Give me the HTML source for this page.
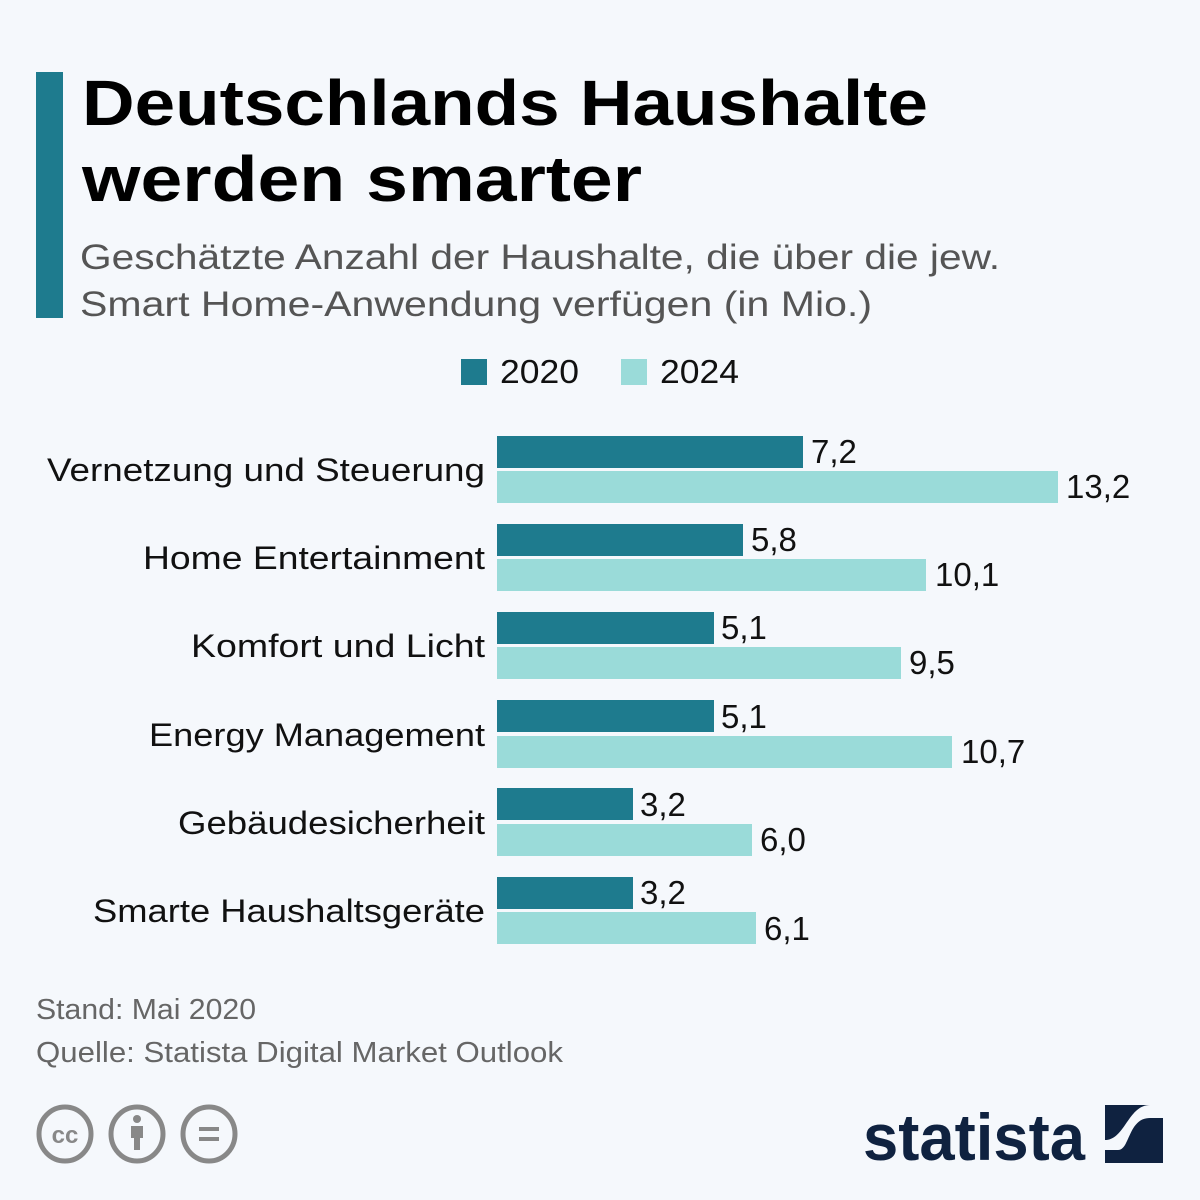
<!DOCTYPE html>
<html><head><meta charset="utf-8"><style>
html,body{margin:0;padding:0;background:#f5f8fc;}
svg{display:block;font-family:"Liberation Sans",sans-serif;}
</style></head><body>
<svg width="1200" height="1200" viewBox="0 0 1200 1200">
<rect width="1200" height="1200" fill="#f5f8fc"/>
<rect x="36" y="72" width="27" height="246" fill="#1e7b8e"/>
<text x="82" y="125" font-size="64" font-weight="bold" fill="#000" textLength="846" lengthAdjust="spacingAndGlyphs">Deutschlands Haushalte</text>
<text x="82" y="201" font-size="64" font-weight="bold" fill="#000" textLength="560" lengthAdjust="spacingAndGlyphs">werden smarter</text>
<text x="80" y="269" font-size="35" fill="#555" textLength="920" lengthAdjust="spacingAndGlyphs">Geschätzte Anzahl der Haushalte, die über die jew.</text>
<text x="80" y="316" font-size="35" fill="#555" textLength="792" lengthAdjust="spacingAndGlyphs">Smart Home-Anwendung verfügen (in Mio.)</text>
<rect x="461" y="359" width="26" height="26" fill="#1e7b8e"/>
<text x="500" y="383" font-size="33" fill="#111" textLength="79" lengthAdjust="spacingAndGlyphs">2020</text>
<rect x="621" y="359" width="26" height="26" fill="#9adbd9"/>
<text x="660" y="383" font-size="33" fill="#111" textLength="79" lengthAdjust="spacingAndGlyphs">2024</text>
<g font-size="32" fill="#111">
<text x="485" y="481" text-anchor="end" textLength="438" lengthAdjust="spacingAndGlyphs">Vernetzung und Steuerung</text>
<text x="485" y="569" text-anchor="end" textLength="342" lengthAdjust="spacingAndGlyphs">Home Entertainment</text>
<text x="485" y="657" text-anchor="end" textLength="294" lengthAdjust="spacingAndGlyphs">Komfort und Licht</text>
<text x="485" y="746" text-anchor="end" textLength="336" lengthAdjust="spacingAndGlyphs">Energy Management</text>
<text x="485" y="834" text-anchor="end" textLength="307" lengthAdjust="spacingAndGlyphs">Gebäudesicherheit</text>
<text x="485" y="922" text-anchor="end" textLength="392" lengthAdjust="spacingAndGlyphs">Smarte Haushaltsgeräte</text>
</g>
<g>
<rect x="497" y="436" width="306" height="32" fill="#1e7b8e"/>
<rect x="497" y="471" width="561" height="32" fill="#9adbd9"/>
<rect x="497" y="524" width="246" height="32" fill="#1e7b8e"/>
<rect x="497" y="559" width="429" height="32" fill="#9adbd9"/>
<rect x="497" y="612" width="217" height="32" fill="#1e7b8e"/>
<rect x="497" y="647" width="404" height="32" fill="#9adbd9"/>
<rect x="497" y="700" width="217" height="32" fill="#1e7b8e"/>
<rect x="497" y="736" width="455" height="32" fill="#9adbd9"/>
<rect x="497" y="788" width="136" height="32" fill="#1e7b8e"/>
<rect x="497" y="824" width="255" height="32" fill="#9adbd9"/>
<rect x="497" y="877" width="136" height="32" fill="#1e7b8e"/>
<rect x="497" y="912" width="259" height="32" fill="#9adbd9"/>
</g>
<g font-size="33" fill="#111">
<text x="811" y="463">7,2</text><text x="1066" y="498">13,2</text>
<text x="751" y="551">5,8</text><text x="935" y="586">10,1</text>
<text x="721" y="639">5,1</text><text x="909" y="674">9,5</text>
<text x="721" y="728">5,1</text><text x="961" y="763">10,7</text>
<text x="640" y="816">3,2</text><text x="760" y="851">6,0</text>
<text x="640" y="904">3,2</text><text x="764" y="940">6,1</text>
</g>
<text x="36" y="1019" font-size="29" fill="#666" textLength="220" lengthAdjust="spacingAndGlyphs">Stand: Mai 2020</text>
<text x="36" y="1062" font-size="29" fill="#666" textLength="527" lengthAdjust="spacingAndGlyphs">Quelle: Statista Digital Market Outlook</text>
<g fill="none" stroke="#888" stroke-width="5">
<ellipse cx="65" cy="1134" rx="26" ry="27"/>
<ellipse cx="137" cy="1134" rx="26" ry="27"/>
<ellipse cx="209" cy="1134" rx="26" ry="27"/>
</g>
<text x="65" y="1143" font-size="24" font-weight="bold" fill="#888" text-anchor="middle">cc</text>
<circle cx="137" cy="1119" r="4" fill="#888"/>
<rect x="131" y="1126" width="12" height="12" fill="#888"/>
<rect x="134" y="1136" width="6" height="14" fill="#888"/>
<rect x="199" y="1127" width="20" height="4" fill="#888"/>
<rect x="199" y="1137" width="20" height="4" fill="#888"/>
<text x="863" y="1160" font-size="66" font-weight="bold" fill="#0f2240" textLength="222" lengthAdjust="spacingAndGlyphs">statista</text>
<rect x="1105" y="1105" width="58" height="58" fill="#0f2240"/>
<path d="M1105 1150 L1118 1150 C1130 1150 1128 1118 1150 1118 L1163 1118 L1163 1105 L1105 1105 Z M1105 1163 L1105 1150" fill="#f5f8fc"/>
<path d="M1105 1105 L1150 1105 C1128 1105 1125 1140 1105 1140 Z" fill="#0f2240"/>
</svg>
</body></html>
